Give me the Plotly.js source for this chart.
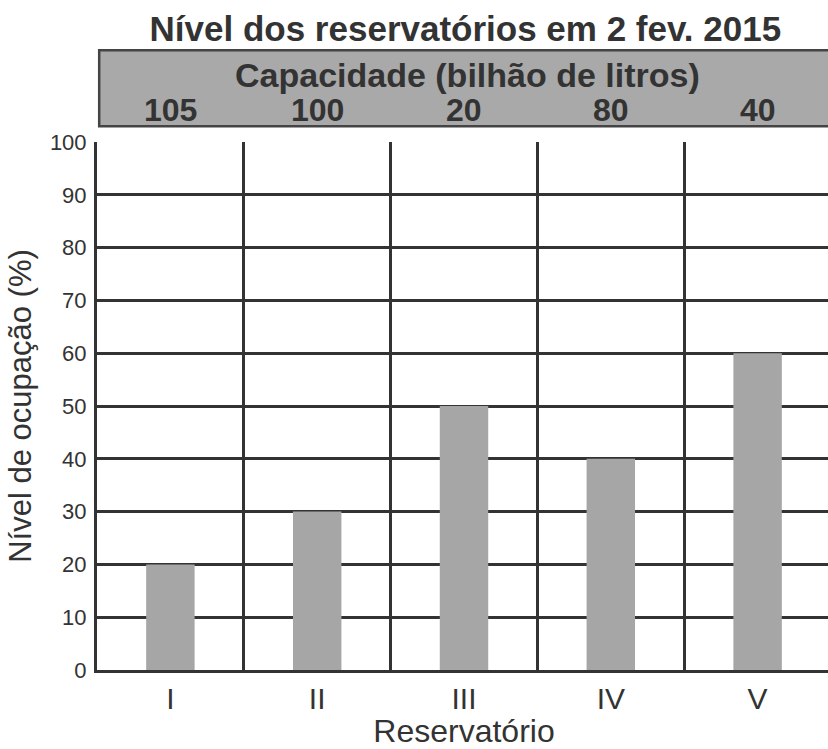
<!DOCTYPE html>
<html>
<head>
<meta charset="utf-8">
<script src="https://cdn.plot.ly/plotly-3.0.1.min.js"></script>
<style>
html, body { margin: 0; padding: 0; overflow: hidden; background: #ffffff; }
#chart { width: 831px; height: 749px; }
</style>
</head>
<body>
<div id="chart"></div>
<script>
// Data
const reservatorios = ["I", "II", "III", "IV", "V"];
const nivelOcupacao = [20, 30, 50, 40, 60];
const capacidades = ["105", "100", "20", "80", "40"];
const yTicks = [0, 10, 20, 30, 40, 50, 60, 70, 80, 90, 100];

const FONT = "Liberation Sans, Arial, Helvetica, sans-serif";
const INK = "#333333";

const trace = {
  type: "bar",
  x: reservatorios,
  y: nivelOcupacao,
  width: 0.33,
  marker: { color: "#a6a6a6", line: { width: 0 } },
  hoverinfo: "x+y"
};

const capAnnotations = reservatorios.map((r, i) => ({
  x: r, xref: "x",
  y: 1.061, yref: "paper",
  text: "<b>" + capacidades[i] + "</b>",
  showarrow: false,
  xanchor: "center", yanchor: "middle",
  font: { family: FONT, size: 32, color: INK }
}));

const layout = {
  width: 831,
  height: 749,
  margin: { l: 97, r: 0, t: 142, b: 79, pad: 0 },
  paper_bgcolor: "#ffffff",
  plot_bgcolor: "#ffffff",
  showlegend: false,
  title: {
    text: "<b>Nível dos reservatórios em 2 fev. 2015</b>",
    font: { family: FONT, size: 35, color: INK },
    x: 0.56, xref: "container", xanchor: "center",
    y: 0.962, yref: "container", yanchor: "middle"
  },
  xaxis: {
    type: "category",
    tickson: "boundaries",
    showgrid: true,
    gridcolor: INK,
    gridwidth: 3,
    showline: true,
    linecolor: INK,
    linewidth: 3,
    ticks: "outside",
    ticklen: 9,
    tickcolor: "rgba(0,0,0,0)",
    tickfont: { family: FONT, size: 30, color: INK },
    layer: "below traces",
    title: {
      text: "Reservatório",
      font: { family: FONT, size: 32, color: INK },
      standoff: 3
    },
    fixedrange: true
  },
  yaxis: {
    range: [0, 100],
    tickvals: yTicks,
    ticktext: yTicks.map(String),
    showgrid: true,
    gridcolor: INK,
    gridwidth: 3,
    zeroline: false,
    showline: true,
    linecolor: INK,
    linewidth: 3,
    ticks: "outside",
    ticklen: 3,
    tickcolor: "rgba(0,0,0,0)",
    tickfont: { family: FONT, size: 22, color: INK },
    layer: "below traces",
    title: {
      text: "Nível de ocupação (%)",
      font: { family: FONT, size: 31, color: INK },
      standoff: 10
    },
    fixedrange: true
  },
  shapes: [{
    type: "rect",
    xref: "paper", yref: "paper",
    x0: 0.003, x1: 1.02,
    y0: 1.030, y1: 1.174,
    fillcolor: "#a9a9a9",
    line: { color: "#444444", width: 2.5 },
    layer: "below"
  }],
  annotations: [{
    x: 0.505, xref: "paper",
    y: 1.127, yref: "paper",
    text: "<b>Capacidade (bilhão de litros)</b>",
    showarrow: false,
    xanchor: "center", yanchor: "middle",
    font: { family: FONT, size: 34, color: INK }
  }].concat(capAnnotations)
};

Plotly.newPlot("chart", [trace], layout, { displayModeBar: false, staticPlot: true });
</script>
</body>
</html>
